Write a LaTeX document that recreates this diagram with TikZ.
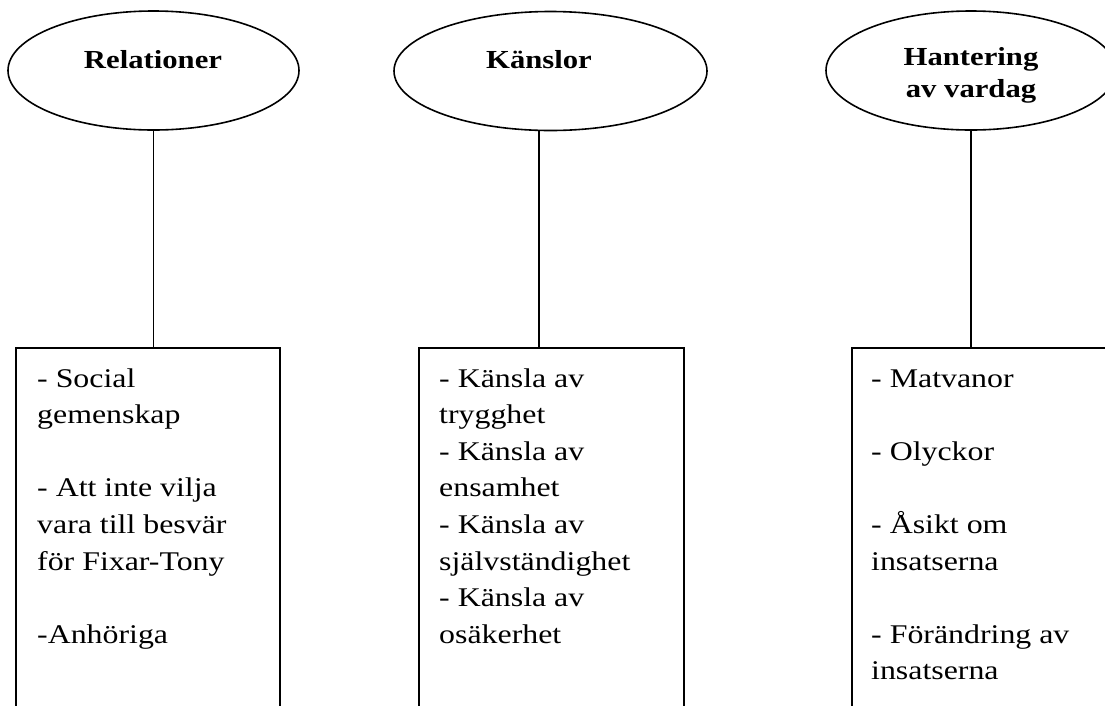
\documentclass[tikz,border=0pt]{standalone}
\usepackage{fontspec}
\setmainfont{Liberation Serif}[FakeStretch=1.18]
\usetikzlibrary{shapes.geometric}
\begin{document}
\begin{tikzpicture}[x=1pt,y=1pt,
  lw/.style={line width=1.6pt},
  oval/.style={draw,lw,ellipse,inner sep=0pt,minimum height=119pt},
  title/.style={font=\fontsize{26pt}{32pt}\selectfont\bfseries,align=center,anchor=base,inner sep=0pt},
  listbox/.style={draw,lw,rectangle,anchor=north west,minimum height=380pt,inner sep=0pt},
  listtext/.style={font=\fontsize{27pt}{36.6pt}\selectfont,align=left,anchor=base west,inner sep=0pt},
  link/.style={lw}]
\useasboundingbox (0,0) rectangle (1105,-705);
\clip (0,0) rectangle (1105,-705);
% ovals
\node[oval,minimum width=291pt] (e1) at (153.5,-70.5) {};
\node[oval,minimum width=313pt] (e2) at (550.5,-71) {};
\node[oval,minimum width=290pt] (e3) at (971,-70.5) {};
\node[title] (t1) at (153,-68) {Relationer};
\node[title] (t2) at (539,-68) {Känslor};
\node[title] (t3) at (971,-97) {Hantering\\av vardag};
% boxes
\node[listbox,minimum width=264pt] (b1) at (15,-347) {};
\node[listbox,minimum width=265pt] (b2) at (418,-347) {};
\node[listbox,minimum width=264pt] (b3) at (851,-347) {};
\node[listtext] (l1) at (37,-643.2) {- Social\\gemenskap\\[36.6pt]- Att inte vilja\\vara till besvär\\för Fixar-Tony\\[36.6pt]-Anhöriga};
\node[listtext] (l2) at (439,-643.2) {- Känsla av\\trygghet\\- Känsla av\\ensamhet\\- Känsla av\\självständighet\\- Känsla av\\osäkerhet};
\node[listtext] (l3) at (871,-679.8) {- Matvanor\\[36.6pt]- Olyckor\\[36.6pt]- Åsikt om\\insatserna\\[36.6pt]- Förändring av\\insatserna};
% connectors
\draw[link] (e1.south) -- (e1.south |- b1.north);
\draw[link] (t2.center |- e2.south) -- (t2.center |- b2.north);
\draw[link] (e3.south) -- (e3.south |- b3.north);
\end{tikzpicture}
\end{document}
